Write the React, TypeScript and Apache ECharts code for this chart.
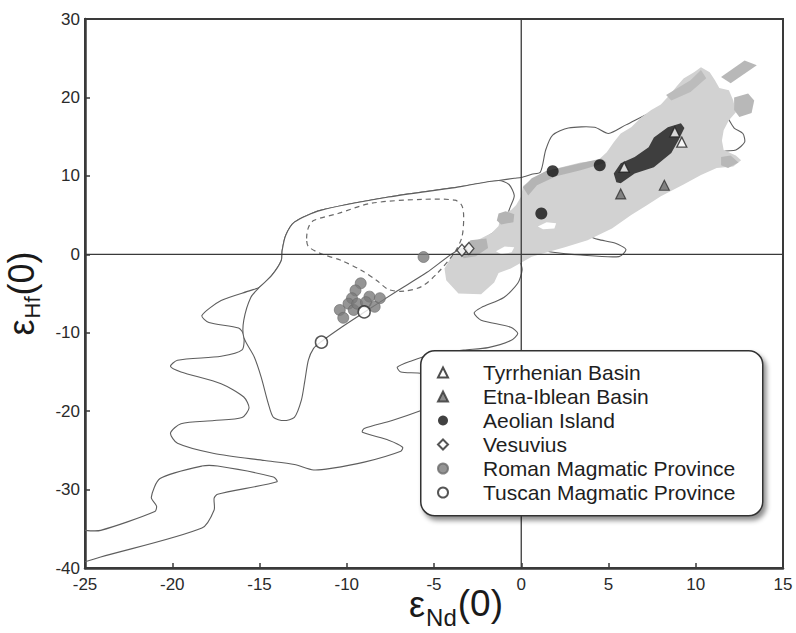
import { useEffect, useRef } from 'react';
import * as echarts from 'echarts';

// ---------- data (εNd(0), εHf(0)) ----------
const tyrrhenianBasin = [[5.9, 11.1], [8.8, 15.6], [9.2, 14.3]];
const etnaIbleanBasin = [[5.7, 7.7], [8.2, 8.8]];
const aeolianIsland = [[1.8, 10.6], [4.5, 11.35], [1.15, 5.2]];
const vesuvius = [[-3.4, 0.5], [-3.0, 0.75]];
const romanProvince = [
  [-5.6, -0.35], [-9.2, -3.7], [-9.5, -4.6], [-8.7, -5.4], [-8.1, -5.6], [-9.7, -5.6],
  [-9.9, -6.3], [-10.4, -7.1], [-10.2, -8.1], [-9.6, -7.1], [-8.4, -6.7], [-9.4, -6.3], [-8.9, -6.1],
];
const tuscanProvince = [[-11.45, -11.2], [-9.0, -7.35]];

// continental crust field (CC)
const ccField = [
  [-18.3, -7.8], [-17.2, -5.9], [-15.5, -4.6], [-15.0, -4.2], [-14.3, -2.7], [-13.75, -0.8], [-13.7, 0.5],
  [-13.5, 2.4], [-13.0, 4.1], [-11.5, 5.6], [-7.6, 7.3], [-3.8, 8.5], [-1.3, 9.4], [-0.4, 9.7], [0, 9.8],
  [0.6, 10.2], [1.1, 10.5], [1.4, 13.3], [1.8, 15.2], [2.7, 16.1], [4.2, 16.2], [5.0, 15.4], [6.0, 16.5],
  [8.0, 18.6], [10.3, 19.0], [11.7, 17.7], [12.2, 16.1], [12.7, 15.4], [12.8, 14.3], [12.3, 13.3], [11.6, 13.1],
  [10.3, 11.4], [8.0, 8.2], [5.2, 3.7], [4.0, 2.3], [4.4, 1.9], [5.4, 1.4], [6.0, 0.6], [5.6, -0.3], [3.4, -0.1],
  [1.7, 0.3], [0.6, 0.8], [-0.05, -0.5], [0.05, -2.0], [-0.2, -3.7], [-1.0, -5.5], [-2.3, -6.8], [-2.7, -7.5],
  [-2.3, -8.4], [-0.6, -9.3], [-0.2, -10.1], [-0.6, -11.0], [-1.9, -11.9], [-3.3, -12.2], [-5.2, -12.8],
  [-6.3, -13.6], [-7.1, -14.4], [-6.9, -15.0], [-5.7, -15.2], [-4.3, -16.5], [-4.3, -18.6], [-5.7, -19.9],
  [-7.4, -21.2], [-9.0, -22.2], [-9.1, -22.7], [-7.6, -23.7], [-6.8, -24.6], [-6.9, -25.1], [-9.0, -26.5],
  [-10.9, -27.3], [-11.9, -27.5], [-13.0, -26.8], [-14.7, -26.3], [-17.6, -25.4], [-19.7, -24.1], [-20.1, -22.8],
  [-19.5, -21.6], [-17.6, -21.2], [-16.0, -20.8], [-15.6, -19.6], [-15.9, -18.2], [-17.2, -16.5], [-19.5, -15.0],
  [-20.1, -14.3], [-19.7, -13.5], [-17.2, -13.0], [-16.0, -12.2], [-15.9, -10.3], [-16.2, -9.4], [-17.9, -8.7],
];
// lower CC tongue, open at the left border
const ccTongue = [
  [-25, -35.2], [-24.1, -35.2], [-21.0, -32.8], [-20.9, -32.1], [-21.2, -31.0], [-20.7, -28.6], [-18.3, -27.0],
  [-17.4, -27.0], [-14.2, -28.4], [-14.0, -29.0], [-17.4, -30.6], [-17.6, -31.1], [-17.6, -32.6], [-18.3, -34.9],
  [-24.1, -38.6], [-25, -39.2],
];
// pelagic sediment field (PS)
const psField = [
  [-15.0, -4.2], [-14.3, -2.7], [-13.75, -0.8], [-13.7, 0.5], [-13.5, 2.4], [-13.0, 4.1], [-11.5, 5.6], [-7.6, 7.3],
  [-3.8, 8.5], [-1.3, 9.4], [-0.7, 8.9], [-0.4, 7.5], [-0.6, 6.2], [-1.1, 3.7], [-2.3, 1.8], [-3.8, 0.3],
  [-5.4, -2.3], [-7.2, -4.8], [-9.0, -7.4], [-10.3, -9.3], [-11.5, -11.2], [-11.9, -12.0], [-12.2, -13.5],
  [-12.4, -16.1], [-12.6, -18.6], [-13.0, -20.8], [-13.6, -21.2], [-14.2, -20.8], [-14.5, -19.0], [-14.9, -15.7],
  [-15.3, -13.1], [-15.9, -10.6], [-15.9, -8.4], [-15.5, -5.5],
];
// Mn nodules field (MN, dashed)
const mnField = [
  [-12.3, 2.0], [-12.2, 3.4], [-11.9, 4.3], [-10.5, 5.2], [-8.6, 6.5], [-5.7, 7.0], [-3.8, 6.9], [-3.4, 6.2],
  [-3.3, 4.7], [-3.4, 2.2], [-3.8, 0.3], [-4.8, -2.4], [-5.7, -4.1], [-6.7, -4.7], [-7.6, -4.5], [-8.3, -3.3],
  [-9.2, -2.0], [-10.3, -0.8], [-11.5, 0.1], [-12.2, 1.0],
];
// oceanic basalt density field (MORB / OIB)
const basaltLight = [
  [-4.0, -0.3], [-3.4, 0.6], [-2.6, 1.7], [-1.7, 2.7], [-1.3, 3.6], [-1.15, 5.1], [-0.6, 5.6], [-0.3, 6.25],
  [0, 7.4], [0.1, 8.7], [0.7, 9.7], [1.4, 10.6], [2.3, 11.1], [3.4, 11.7], [4.4, 12.0], [4.9, 13.0], [5.3, 14.3],
  [5.7, 15.4], [6.3, 16.2], [6.9, 17.5], [7.45, 18.4], [8.0, 19.1], [8.5, 20.3], [8.9, 21.4], [9.3, 22.4],
  [9.9, 23.2], [10.3, 23.85], [10.8, 23.2], [11.1, 22.2], [11.35, 21.2], [11.9, 20.9], [12.15, 19.6], [12.3, 18.1],
  [11.9, 17.1], [11.6, 15.8], [11.5, 14.5], [11.6, 13.3], [12.3, 12.6], [12.6, 12.0], [12.15, 11.2], [11.2, 11.0],
  [10.3, 10.1], [9.3, 8.9], [8.0, 7.4], [7.2, 6.25], [6.3, 5.0], [5.2, 3.3], [3.8, 1.8], [2.5, 0.9], [0.6, -0.3],
  [-0.6, -1.8], [-1.3, -2.4], [-1.55, -3.6], [-2.3, -5.1], [-3.6, -5.0], [-4.3, -3.3], [-4.4, -1.8],
];
const basaltMid1 = [[0.1, 8.55], [0.6, 9.7], [1.4, 10.6], [3.4, 11.6], [4.6, 12.2], [4.9, 11.7], [3.4, 10.7], [2.0, 9.95], [0.9, 8.8], [0.4, 7.5]];
const basaltMid2 = [[-1.3, 5.2], [-0.9, 5.5], [-0.4, 5.1], [-0.45, 4.1], [-1.15, 3.8], [-1.4, 4.3]];
const basaltMid3 = [[-3.55, 0.5], [-2.9, 1.8], [-2.0, 2.0], [-1.9, 0.8], [-2.6, -0.25], [-3.3, -0.5]];
const basaltMid4 = [[11.45, 22.6], [12.8, 24.7], [13.5, 24.1], [12.0, 21.8]];
const basaltMid5 = [[12.2, 20.0], [13.0, 20.5], [13.35, 19.6], [13.2, 18.0], [12.5, 17.5], [12.2, 18.4]];
const basaltMid6 = [[11.45, 12.4], [12.0, 12.6], [12.45, 11.7], [11.85, 11.0], [11.45, 11.35]];
const basaltMid7 = [[8.3, 20.3], [9.7, 22.2], [10.3, 23.5], [10.6, 22.45], [9.7, 20.7], [8.6, 19.6]];
const basaltHole1 = [[0.95, 3.55], [1.45, 4.1], [2.0, 3.95], [1.9, 3.3], [1.25, 3.2]];
const basaltHole2 = [[-1.45, 0.4], [-0.95, 1.0], [-0.4, 0.9], [-0.55, 0.25], [-1.15, 0.0]];
const basaltCore = [
  [5.45, 9.2], [5.3, 10.3], [5.7, 11.6], [6.5, 12.4], [7.3, 13.65], [7.6, 14.9], [8.4, 16.2], [9.15, 16.7],
  [9.35, 16.1], [9.0, 14.5], [8.6, 12.9], [7.6, 11.1], [6.5, 10.3], [5.7, 9.05],
];
const fieldLabels = [
  { name: 'PS', value: [-2.1, 11.0] },
  { name: 'MN', value: [-9.8, 2.4] },
  { name: 'CC', value: [-11.85, -29.85] },
  { name: 'DM', value: [11.0, 19.8] },
  { name: 'HIMU', value: [8.2, 5.75] },
];
const legendNames = [
  'Tyrrhenian Basin', 'Etna-Iblean Basin', 'Aeolian Island', 'Vesuvius',
  'Roman Magmatic Province', 'Tuscan Magmatic Province',
];

const FONT = 'Liberation Sans, Arial, Helvetica, sans-serif';

function shapeSeries(name: string, pts: number[][], style: any, smooth = 0, kind = 'polygon') {
  return {
    type: 'custom',
    name,
    coordinateSystem: 'cartesian2d',
    clip: true,
    silent: true,
    data: pts,
    renderItem: (params: any, api: any) => {
      if (params.dataIndex !== 0) return null;
      return {
        type: kind,
        shape: { points: pts.map((p) => api.coord(p)), smooth },
        style,
      };
    },
  };
}

const contourStyle = { stroke: '#5e5e5e', lineWidth: 1.1 };
const xTitleRich = {
  e: { fontSize: 36, fontFamily: FONT, color: '#1a1a1a', verticalAlign: 'bottom', padding: [0, 1, 7, 0] },
  s: { fontSize: 24, fontFamily: FONT, color: '#1a1a1a', verticalAlign: 'bottom' },
  p: { fontSize: 37, fontFamily: FONT, color: '#1a1a1a', verticalAlign: 'bottom', padding: [0, 0, 7, 1] },
};
const yTitleRich = {
  e: { fontSize: 36, fontFamily: FONT, color: '#1a1a1a', verticalAlign: 'bottom', padding: [0, 1, 4, 0] },
  s: { fontSize: 22, fontFamily: FONT, color: '#1a1a1a', verticalAlign: 'bottom' },
  p: { fontSize: 36, fontFamily: FONT, color: '#1a1a1a', verticalAlign: 'bottom', padding: [0, 0, 4, 1] },
};

export default function App() {
  const ref = useRef<HTMLDivElement>(null);
  useEffect(() => {
    const chart = echarts.init(ref.current!, null, { renderer: 'svg' });
    const scatterBase = { type: 'scatter', z: 5 };
    chart.setOption({
      animation: false,
      backgroundColor: '#fff',
      grid: {
        left: 85, right: 13, top: 19, bottom: 65, containLabel: false, outerBoundsMode: 'none',
        show: true, borderColor: '#3a3a3a', borderWidth: 2, backgroundColor: 'transparent',
      },
      xAxis: {
        type: 'value', min: -25, max: 15, interval: 5,
        name: '{e|ε}{s|Nd}{p|(0)}', nameLocation: 'middle', nameGap: 17, nameMoveOverlap: false,
        nameTextStyle: { rich: xTitleRich, padding: [0, 0, 0, 44] },
        axisLine: { onZero: false, lineStyle: { color: '#3a3a3a', width: 2.5 } },
        axisTick: { inside: true, length: 5, lineStyle: { color: '#3a3a3a', width: 1.5 } },
        axisLabel: { fontSize: 17, color: '#2a2a2a', fontFamily: FONT, margin: 8 },
        splitLine: { show: false },
      },
      yAxis: {
        type: 'value', min: -40, max: 30, interval: 10,
        name: '{e|ε}{s|Hf}{p|(0)}', nameLocation: 'middle', nameRotate: 90, nameGap: 42, nameMoveOverlap: false,
        nameTextStyle: { rich: yTitleRich },
        axisLine: { onZero: false, lineStyle: { color: '#3a3a3a', width: 2.5 } },
        axisTick: { inside: true, length: 5, lineStyle: { color: '#3a3a3a', width: 1.5 } },
        axisLabel: { fontSize: 17, color: '#2a2a2a', fontFamily: FONT, margin: 5 },
        splitLine: { show: false },
      },
      legend: {
        data: legendNames,
        orient: 'vertical', left: 437, top: 362, padding: 0,
        itemWidth: 10, itemHeight: 10, itemGap: 3,
        selectedMode: false, z: 60,
        textStyle: { fontSize: 21, color: '#1e1e1e', fontFamily: FONT, padding: [0, 0, 0, 30] },
      },
      graphic: [
        {
          type: 'rect', left: 420, top: 350, z: 50, silent: true,
          shape: { width: 342, height: 165, r: 14 },
          style: {
            fill: '#fff', stroke: '#333', lineWidth: 1.5,
            shadowBlur: 5, shadowOffsetX: 3, shadowOffsetY: 4, shadowColor: 'rgba(0,0,0,0.45)',
          },
        },
      ],
      series: [
        { type: 'line', name: 'zeroNd', data: [[0, -40], [0, 30]], symbol: 'none', silent: true, lineStyle: { color: '#3a3a3a', width: 1.3 } },
        { type: 'line', name: 'zeroHf', data: [[-25, 0], [15, 0]], symbol: 'none', silent: true, lineStyle: { color: '#3a3a3a', width: 1.3 } },
        shapeSeries('CC', ccField, { fill: '#fff', ...contourStyle }, 0.25),
        shapeSeries('PS', psField, { fill: '#fff', ...contourStyle }, 0.25),
        shapeSeries('CC tongue', ccTongue, { fill: 'none', ...contourStyle }, 0.25, 'polyline'),
        shapeSeries('basalt', basaltLight, { fill: '#d2d2d2' }),
        shapeSeries('b1', basaltMid1, { fill: '#b4b4b4' }),
        shapeSeries('b2', basaltMid2, { fill: '#b4b4b4' }),
        shapeSeries('b3', basaltMid3, { fill: '#b4b4b4' }),
        shapeSeries('b4', basaltMid4, { fill: '#b8b8b8' }),
        shapeSeries('b5', basaltMid5, { fill: '#b8b8b8' }),
        shapeSeries('b6', basaltMid6, { fill: '#b8b8b8' }),
        shapeSeries('b7', basaltMid7, { fill: '#bcbcbc' }),
        shapeSeries('h1', basaltHole1, { fill: '#fff' }),
        shapeSeries('h2', basaltHole2, { fill: '#fff' }),
        shapeSeries('core', basaltCore, { fill: '#3e3e3e' }),
        shapeSeries('MN', mnField, { fill: 'none', stroke: '#6a6a6a', lineWidth: 1.2, lineDash: [5, 4] }, 0.3),
        {
          ...scatterBase, name: 'Roman Magmatic Province', data: romanProvince, symbol: 'circle', symbolSize: 11,
          itemStyle: { color: '#7a7a7a', borderColor: '#6a6a6a', borderWidth: 0.8 },
        },
        {
          ...scatterBase, name: 'Tuscan Magmatic Province', data: tuscanProvince, symbol: 'circle', symbolSize: 12,
          itemStyle: { color: '#fff', borderColor: '#2a2a2a', borderWidth: 1.5 },
        },
        {
          ...scatterBase, name: 'Vesuvius', data: vesuvius, symbol: 'diamond', symbolSize: [10, 12],
          itemStyle: { color: '#fff', borderColor: '#2a2a2a', borderWidth: 1.3 },
        },
        {
          ...scatterBase, name: 'Aeolian Island', data: aeolianIsland, symbol: 'circle', symbolSize: 12,
          itemStyle: { color: '#111' },
        },
        {
          ...scatterBase, name: 'Etna-Iblean Basin', data: etnaIbleanBasin, symbol: 'triangle', symbolSize: 10,
          itemStyle: { color: '#6e6e6e', borderColor: '#333', borderWidth: 1.2 },
        },
        {
          ...scatterBase, name: 'Tyrrhenian Basin', data: tyrrhenianBasin, symbol: 'triangle', symbolSize: 10,
          itemStyle: { color: '#fff', borderColor: '#222', borderWidth: 1.3 },
        },
        {
          type: 'scatter', name: 'fieldLabels', z: 6, silent: true, symbolSize: 1,
          itemStyle: { opacity: 0 },
          data: fieldLabels.map((d) => ({
            ...d,
            label: (d.name === 'DM' || d.name === 'HIMU')
              ? { fontStyle: 'italic', fontSize: 18, backgroundColor: d.name === 'DM' ? '#fff' : 'transparent', padding: [1, 2] }
              : { fontSize: d.name === 'PS' ? 19 : 20 },
          })),
          label: { show: true, position: 'inside', formatter: '{b}', color: '#1e1e1e', fontFamily: FONT, fontSize: 19 },
        },
      ],
    });
    return () => chart.dispose();
  }, []);
  return <div ref={ref} style={{ position: 'absolute', left: 0, top: 0, width: 796, height: 633, background: '#fff' }} />;
}
